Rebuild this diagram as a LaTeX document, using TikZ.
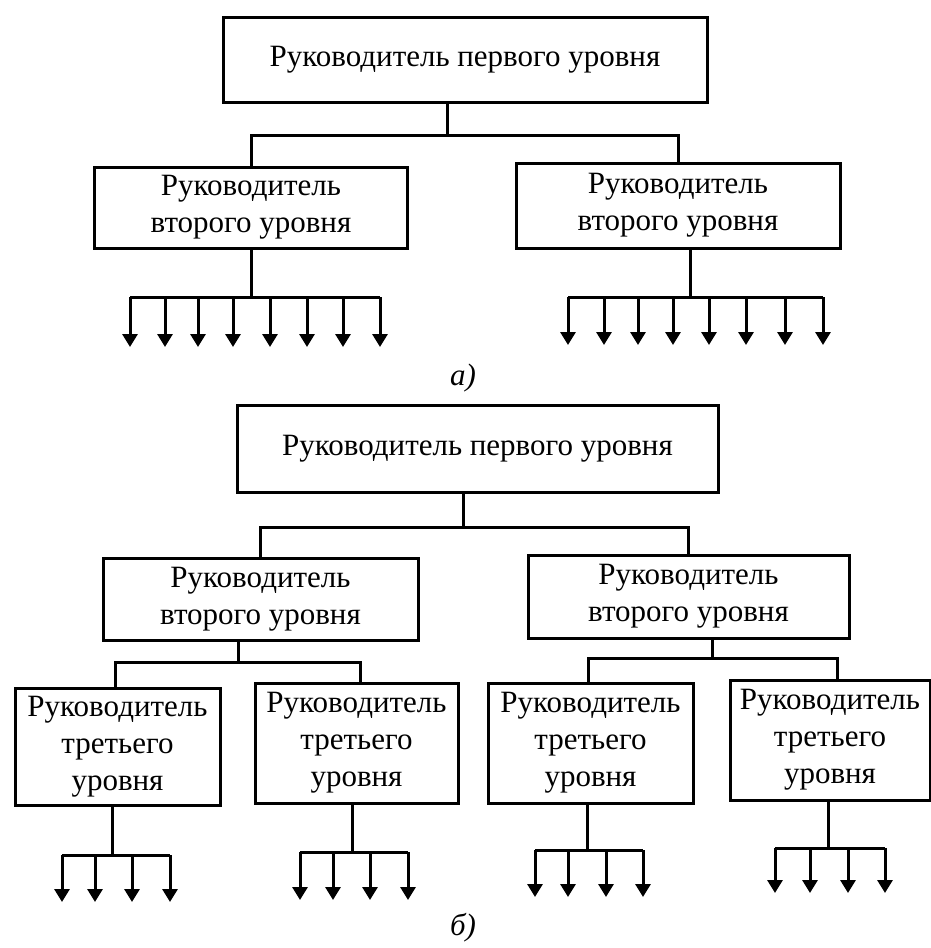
\documentclass[tikz,border=0pt]{standalone}
\usepackage{fontspec}
\setmainfont{Liberation Serif}
\usetikzlibrary{arrows.meta}
\tikzset{
  box/.style 2 args={draw, line width=3pt, align=center, inner sep=0pt,
    minimum width=#1, minimum height=#2,
    font=\fontsize{31pt}{37pt}\selectfont},
  line/.style={line width=3pt},
  fan/.style={line width=3pt, -{Triangle[width=15pt,length=13pt]}},
  caption/.style={font=\fontsize{31pt}{36pt}\selectfont\itshape}
}
\begin{document}
\begin{tikzpicture}[x=1pt, y=-1pt]
	\useasboundingbox (0,0) rectangle (931,948);
	% a)
	\node[box={484pt}{85pt}] (A0) at (465,59.5) {Руководитель первого уровня};
	\node[box={313pt}{81pt}] (A1) at (251,207.5) {Руководитель\\второго уровня};
	\node[box={324pt}{85pt}] (A2) at (678,205.5) {Руководитель\\второго уровня};
	\coordinate (jA) at (447,135);
	\draw[line] ([xshift=-18pt]A0.south) -- (jA);
	\draw[line] (A1.north) -- (A1.north |- jA) -- (A2.north |- jA) -- (A2.north);
	\coordinate (fA1) at (251,297);
	\coordinate (fA2) at (690,297);
	\draw[line] (A1.south) -- (fA1);
	\draw[line] ([xshift=12pt]A2.south) -- (fA2);
	\draw[line] (130,297) -- (380,297);
	\draw[line] (568,297) -- (823,297);
	\foreach \x in {130,165,198,233,270,307,343,380}
		\draw[fan] (\x,297) -- (\x,347);
	\foreach \x in {568,604,638,673,709,746,785,823}
		\draw[fan] (\x,297) -- (\x,345);
	\node[caption] (capA) at (463,378) {а)};
	% б)
	\node[box={481pt}{87pt}] (B0) at (477.5,448.5) {Руководитель первого уровня};
	\node[box={315pt}{82pt}] (B1) at (260.5,599) {Руководитель\\второго уровня};
	\node[box={321pt}{83pt}] (B2) at (688.5,596.5) {Руководитель\\второго уровня};
	\node[box={205pt}{117pt}] (B11) at (117.5,746.5) {Руководитель\\третьего\\уровня};
	\node[box={203pt}{120pt}] (B12) at (356.5,743) {Руководитель\\третьего\\уровня};
	\node[box={205pt}{120pt}] (B21) at (590.5,743) {Руководитель\\третьего\\уровня};
	\node[box={200pt}{120pt}] (B22) at (830,740) {Руководитель\\третьего\\уровня};
	\coordinate (jB) at (463,527);
	\draw[line] ([xshift=-14.5pt]B0.south) -- (jB);
	\draw[line] (B1.north) -- (B1.north |- jB) -- (B2.north |- jB) -- (B2.north);
	\coordinate (jB1) at (238,662);
	\coordinate (jB2) at (712,658);
	\draw[line] ([xshift=-22.5pt]B1.south) -- (jB1);
	\draw[line] ([xshift=23.5pt]B2.south) -- (jB2);
	\draw[line] ([xshift=-2.5pt]B11.north) -- ([xshift=-2.5pt]B11.north |- jB1) -- ([xshift=3.5pt]B12.north |- jB1) -- ([xshift=3.5pt]B12.north);
	\draw[line] ([xshift=-2.5pt]B21.north) -- ([xshift=-2.5pt]B21.north |- jB2) -- ([xshift=7pt]B22.north |- jB2) -- ([xshift=7pt]B22.north);
	\coordinate (fB11) at (112,855);
	\coordinate (fB12) at (352,852);
	\coordinate (fB21) at (587,850);
	\coordinate (fB22) at (828,848);
	\draw[line] ([xshift=-5.5pt]B11.south) -- (fB11);
	\draw[line] ([xshift=-4.5pt]B12.south) -- (fB12);
	\draw[line] ([xshift=-3.5pt]B21.south) -- (fB21);
	\draw[line] ([xshift=-2pt]B22.south) -- (fB22);
	\draw[line] (62,855) -- (170,855);
	\draw[line] (300,852) -- (408,852);
	\draw[line] (535,850) -- (643,850);
	\draw[line] (775,848) -- (885,848);
	\foreach \x in {62,95,132,170}
		\draw[fan] (\x,855) -- (\x,902);
	\foreach \x in {300,333,370,408}
		\draw[fan] (\x,852) -- (\x,900);
	\foreach \x in {535,568,606,643}
		\draw[fan] (\x,850) -- (\x,897);
	\foreach \x in {775,810,848,885}
		\draw[fan] (\x,848) -- (\x,893);
	\node[caption] (capB) at (463,928) {б)};
\end{tikzpicture}
\end{document}
